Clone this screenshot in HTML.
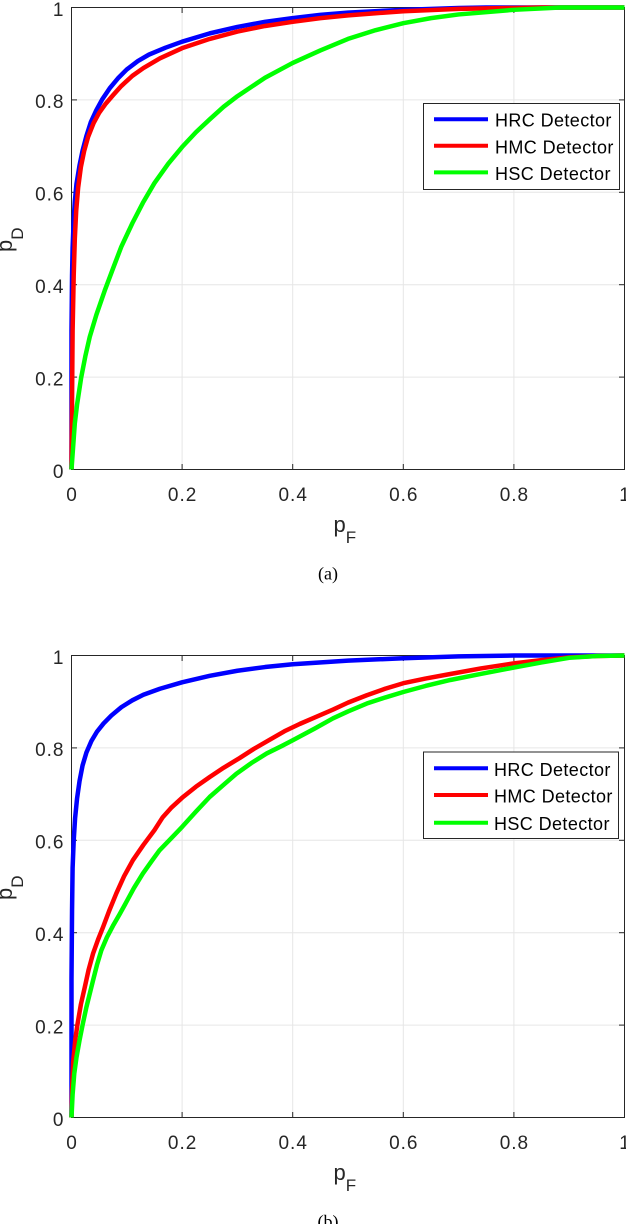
<!DOCTYPE html>
<html>
<head>
<meta charset="utf-8">
<style>
  html, body { margin: 0; padding: 0; background: #ffffff; }
  svg { display: block; }
  .tick { font-family: "Liberation Sans", Arial, sans-serif; font-size: 19px; fill: #262626; letter-spacing: 1px; }
  .leg { font-family: "Liberation Sans", Arial, sans-serif; font-size: 18px; fill: #000000; letter-spacing: 0.4px; }
  .lab { font-family: "Liberation Sans", Arial, sans-serif; font-size: 22px; fill: #262626; }
  .cap { font-family: "Liberation Serif", "Times New Roman", serif; font-size: 18px; fill: #000000; }
  .grid line { stroke: #e6e6e6; stroke-width: 1; }
  .ax { fill: none; stroke: #262626; stroke-width: 1; }
  .tk line { stroke: #262626; stroke-width: 1; }
  .cv { fill: none; stroke-width: 4.5; stroke-linejoin: round; stroke-linecap: butt; }
</style>
</head>
<body>
<svg width="626" height="1224" viewBox="0 0 626 1224" xmlns="http://www.w3.org/2000/svg">
  <rect x="0" y="0" width="626" height="1224" fill="#ffffff"/>

  <!-- ================= PLOT (a) ================= -->
  <g id="plotA">
    <g class="grid">
      <line x1="182.1" y1="7.5" x2="182.1" y2="469.5"/>
      <line x1="292.7" y1="7.5" x2="292.7" y2="469.5"/>
      <line x1="403.3" y1="7.5" x2="403.3" y2="469.5"/>
      <line x1="513.9" y1="7.5" x2="513.9" y2="469.5"/>
      <line x1="71.5" y1="99.9" x2="624.5" y2="99.9"/>
      <line x1="71.5" y1="192.3" x2="624.5" y2="192.3"/>
      <line x1="71.5" y1="284.7" x2="624.5" y2="284.7"/>
      <line x1="71.5" y1="377.1" x2="624.5" y2="377.1"/>
    </g>
    <rect class="ax" x="71.5" y="7.5" width="553" height="462"/>
    <g class="tk">
      <line x1="182.1" y1="469.5" x2="182.1" y2="464"/>
      <line x1="292.7" y1="469.5" x2="292.7" y2="464"/>
      <line x1="403.3" y1="469.5" x2="403.3" y2="464"/>
      <line x1="513.9" y1="469.5" x2="513.9" y2="464"/>
      <line x1="182.1" y1="7.5" x2="182.1" y2="13"/>
      <line x1="292.7" y1="7.5" x2="292.7" y2="13"/>
      <line x1="403.3" y1="7.5" x2="403.3" y2="13"/>
      <line x1="513.9" y1="7.5" x2="513.9" y2="13"/>
      <line x1="71.5" y1="99.9" x2="77" y2="99.9"/>
      <line x1="71.5" y1="192.3" x2="77" y2="192.3"/>
      <line x1="71.5" y1="284.7" x2="77" y2="284.7"/>
      <line x1="71.5" y1="377.1" x2="77" y2="377.1"/>
      <line x1="624.5" y1="99.9" x2="619" y2="99.9"/>
      <line x1="624.5" y1="192.3" x2="619" y2="192.3"/>
      <line x1="624.5" y1="284.7" x2="619" y2="284.7"/>
      <line x1="624.5" y1="377.1" x2="619" y2="377.1"/>
    </g>

    <g transform="translate(71.5,469.5) scale(553,-462)">
      <polyline class="cv" vector-effect="non-scaling-stroke" stroke="#0000ff"
        points="0,0 0,0.3 0.001,0.42 0.002,0.48 0.004,0.54 0.006,0.58 0.009,0.618 0.0145,0.658 0.02,0.69 0.027,0.722 0.035,0.752 0.045,0.778 0.056,0.802 0.069,0.825 0.085,0.848 0.1,0.866 0.12,0.884 0.14,0.898 0.17,0.913 0.2,0.926 0.25,0.944 0.3,0.958 0.35,0.969 0.4,0.977 0.45,0.984 0.5,0.989 0.6,0.995 0.7,0.999 0.75,1 1,1"/>
      <polyline class="cv" vector-effect="non-scaling-stroke" stroke="#ff0000"
        points="0,0 0.002,0.3 0.004,0.42 0.006,0.5 0.0085,0.56 0.012,0.61 0.017,0.655 0.023,0.69 0.03,0.72 0.04,0.75 0.05,0.772 0.062,0.792 0.075,0.81 0.09,0.83 0.11,0.852 0.13,0.869 0.16,0.89 0.2,0.912 0.25,0.932 0.3,0.948 0.35,0.96 0.4,0.969 0.45,0.977 0.5,0.983 0.6,0.992 0.7,0.997 0.8,0.999 0.85,1 1,1"/>
      <polyline class="cv" vector-effect="non-scaling-stroke" stroke="#00ff00"
        points="0,0 0.003,0.05 0.006,0.1 0.01,0.14 0.0175,0.199 0.025,0.245 0.033,0.287 0.045,0.335 0.06,0.387 0.075,0.435 0.09,0.482 0.11,0.533 0.129,0.577 0.15,0.62 0.175,0.662 0.2,0.698 0.225,0.73 0.25,0.758 0.275,0.785 0.3,0.808 0.35,0.848 0.4,0.88 0.45,0.907 0.5,0.932 0.55,0.951 0.6,0.966 0.65,0.977 0.7,0.985 0.8,0.995 0.884,1 1,1"/>
    </g>

    <g class="tick" text-anchor="middle">
      <text x="72" y="500.8">0</text>
      <text x="182.6" y="500.8">0.2</text>
      <text x="293.2" y="500.8">0.4</text>
      <text x="403.8" y="500.8">0.6</text>
      <text x="514.4" y="500.8">0.8</text>
      <text x="625" y="500.8">1</text>
    </g>
    <g class="tick" text-anchor="end">
      <text x="64.5" y="477.8">0</text>
      <text x="64.5" y="385.4">0.2</text>
      <text x="64.5" y="293">0.4</text>
      <text x="64.5" y="200.6">0.6</text>
      <text x="64.5" y="108.2">0.8</text>
      <text x="64.5" y="15.8">1</text>
    </g>

    <text class="lab" x="333.5" y="532">p<tspan font-size="17" dy="11">F</tspan></text>
    <text class="lab" transform="translate(12,252) rotate(-90)">p<tspan font-size="17" dy="11">D</tspan></text>

    <rect x="423.5" y="103.5" width="196" height="86" fill="#ffffff" stroke="#262626" stroke-width="1"/>
    <line x1="434" y1="119.2" x2="488" y2="119.2" stroke="#0000ff" stroke-width="4"/>
    <line x1="434" y1="145.8" x2="488" y2="145.8" stroke="#ff0000" stroke-width="4"/>
    <line x1="434" y1="172.4" x2="488" y2="172.4" stroke="#00ff00" stroke-width="4"/>
    <text class="leg" x="495" y="126.7">HRC Detector</text>
    <text class="leg" x="495" y="153.3">HMC Detector</text>
    <text class="leg" x="495" y="180">HSC Detector</text>

    <text class="cap" x="328" y="579.5" text-anchor="middle">(a)</text>
  </g>

  <!-- ================= PLOT (b) ================= -->
  <g id="plotB" transform="translate(0,648)">
    <g class="grid">
      <line x1="182.1" y1="7.5" x2="182.1" y2="469.5"/>
      <line x1="292.7" y1="7.5" x2="292.7" y2="469.5"/>
      <line x1="403.3" y1="7.5" x2="403.3" y2="469.5"/>
      <line x1="513.9" y1="7.5" x2="513.9" y2="469.5"/>
      <line x1="71.5" y1="99.9" x2="624.5" y2="99.9"/>
      <line x1="71.5" y1="192.3" x2="624.5" y2="192.3"/>
      <line x1="71.5" y1="284.7" x2="624.5" y2="284.7"/>
      <line x1="71.5" y1="377.1" x2="624.5" y2="377.1"/>
    </g>
    <rect class="ax" x="71.5" y="7.5" width="553" height="462"/>
    <g class="tk">
      <line x1="182.1" y1="469.5" x2="182.1" y2="464"/>
      <line x1="292.7" y1="469.5" x2="292.7" y2="464"/>
      <line x1="403.3" y1="469.5" x2="403.3" y2="464"/>
      <line x1="513.9" y1="469.5" x2="513.9" y2="464"/>
      <line x1="182.1" y1="7.5" x2="182.1" y2="13"/>
      <line x1="292.7" y1="7.5" x2="292.7" y2="13"/>
      <line x1="403.3" y1="7.5" x2="403.3" y2="13"/>
      <line x1="513.9" y1="7.5" x2="513.9" y2="13"/>
      <line x1="71.5" y1="99.9" x2="77" y2="99.9"/>
      <line x1="71.5" y1="192.3" x2="77" y2="192.3"/>
      <line x1="71.5" y1="284.7" x2="77" y2="284.7"/>
      <line x1="71.5" y1="377.1" x2="77" y2="377.1"/>
      <line x1="624.5" y1="99.9" x2="619" y2="99.9"/>
      <line x1="624.5" y1="192.3" x2="619" y2="192.3"/>
      <line x1="624.5" y1="284.7" x2="619" y2="284.7"/>
      <line x1="624.5" y1="377.1" x2="619" y2="377.1"/>
    </g>

    <g transform="translate(71.5,469.5) scale(553,-462)">
      <polyline class="cv" vector-effect="non-scaling-stroke" stroke="#0000ff"
        points="0,0 0,0.3 0.001,0.45 0.002,0.54 0.004,0.6 0.0065,0.648 0.01,0.69 0.0145,0.728 0.02,0.762 0.027,0.79 0.036,0.815 0.046,0.835 0.058,0.853 0.072,0.87 0.09,0.888 0.11,0.903 0.13,0.915 0.16,0.928 0.2,0.942 0.25,0.956 0.3,0.967 0.35,0.975 0.4,0.981 0.5,0.989 0.6,0.994 0.7,0.998 0.8,1 1,1"/>
      <polyline class="cv" vector-effect="non-scaling-stroke" stroke="#ff0000"
        points="0,0 0.001,0.06 0.003,0.12 0.007,0.17 0.011,0.203 0.017,0.245 0.024,0.282 0.031,0.32 0.039,0.355 0.048,0.385 0.057,0.412 0.068,0.447 0.081,0.485 0.095,0.522 0.111,0.557 0.13,0.59 0.15,0.622 0.165,0.65 0.18,0.67 0.2,0.692 0.225,0.716 0.25,0.737 0.275,0.757 0.304,0.778 0.33,0.798 0.359,0.818 0.385,0.836 0.413,0.852 0.44,0.866 0.473,0.883 0.5,0.898 0.534,0.914 0.567,0.928 0.6,0.94 0.64,0.95 0.685,0.96 0.74,0.972 0.8,0.983 0.85,0.99 0.9,0.996 0.95,0.999 1,1"/>
      <polyline class="cv" vector-effect="non-scaling-stroke" stroke="#00ff00"
        points="0,0 0.002,0.05 0.005,0.095 0.009,0.13 0.0145,0.167 0.02,0.2 0.027,0.239 0.033,0.268 0.039,0.297 0.046,0.33 0.054,0.362 0.064,0.39 0.075,0.415 0.087,0.44 0.099,0.466 0.113,0.497 0.129,0.528 0.145,0.555 0.159,0.578 0.18,0.604 0.2,0.629 0.225,0.662 0.25,0.694 0.275,0.72 0.298,0.744 0.325,0.767 0.353,0.788 0.38,0.804 0.401,0.817 0.44,0.842 0.473,0.864 0.5,0.879 0.534,0.896 0.567,0.909 0.6,0.921 0.64,0.934 0.685,0.947 0.74,0.96 0.8,0.974 0.85,0.985 0.9,0.995 0.95,0.999 1,1"/>
    </g>

    <g class="tick" text-anchor="middle">
      <text x="72" y="500.8">0</text>
      <text x="182.6" y="500.8">0.2</text>
      <text x="293.2" y="500.8">0.4</text>
      <text x="403.8" y="500.8">0.6</text>
      <text x="514.4" y="500.8">0.8</text>
      <text x="625" y="500.8">1</text>
    </g>
    <g class="tick" text-anchor="end">
      <text x="64.5" y="477.8">0</text>
      <text x="64.5" y="385.4">0.2</text>
      <text x="64.5" y="293">0.4</text>
      <text x="64.5" y="200.6">0.6</text>
      <text x="64.5" y="108.2">0.8</text>
      <text x="64.5" y="15.8">1</text>
    </g>

    <text class="lab" x="333.5" y="532">p<tspan font-size="17" dy="11">F</tspan></text>
    <text class="lab" transform="translate(12,252) rotate(-90)">p<tspan font-size="17" dy="11">D</tspan></text>

    <rect x="423.5" y="104" width="195" height="86.5" fill="#ffffff" stroke="#262626" stroke-width="1"/>
    <line x1="434" y1="120.3" x2="488" y2="120.3" stroke="#0000ff" stroke-width="4"/>
    <line x1="434" y1="147" x2="488" y2="147" stroke="#ff0000" stroke-width="4"/>
    <line x1="434" y1="174.7" x2="488" y2="174.7" stroke="#00ff00" stroke-width="4"/>
    <text class="leg" x="494" y="127.8">HRC Detector</text>
    <text class="leg" x="494" y="154.5">HMC Detector</text>
    <text class="leg" x="494" y="182.2">HSC Detector</text>

    <text class="cap" x="328" y="579.5" text-anchor="middle">(b)</text>
  </g>
</svg>
</body>
</html>
